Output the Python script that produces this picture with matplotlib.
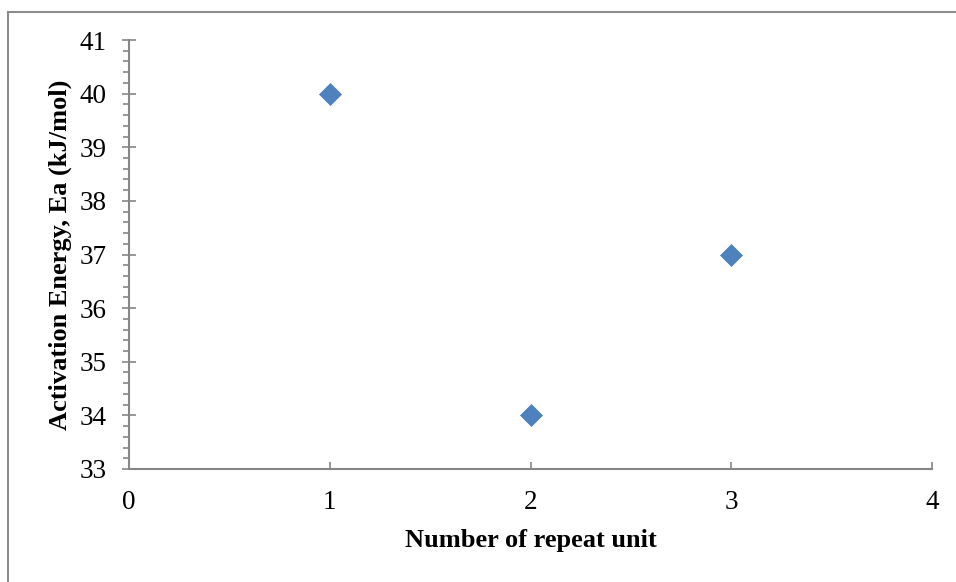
import matplotlib
matplotlib.use("Agg")
import matplotlib.pyplot as plt
from matplotlib.lines import Line2D
from matplotlib.ticker import MultipleLocator

repeat_units = [1, 2, 3]
activation_energy = [40, 34, 37]

plt.rcParams['font.family'] = ['Liberation Serif', 'DejaVu Serif']

W, H = 956, 582
fig = plt.figure(figsize=(W / 100, H / 100), dpi=100)
ax_left, ax_right, ax_top, ax_bottom = 129, 932, 40, 469
ax = fig.add_axes([ax_left / W, 1 - ax_bottom / H,
                   (ax_right - ax_left) / W, (ax_bottom - ax_top) / H])

axis_grey = '#868686'

ax.scatter(repeat_units, activation_energy, marker='D', s=125,
           color='#4F81BD', edgecolors='#4A7EBB', linewidths=0.5, zorder=3)

ax.set_xlim(0, 4)
ax.set_ylim(33, 41)
ax.xaxis.set_major_locator(MultipleLocator(1))
ax.yaxis.set_major_locator(MultipleLocator(1))
ax.yaxis.set_minor_locator(MultipleLocator(0.2))

for side in ('top', 'right'):
    ax.spines[side].set_visible(False)
for side in ('left', 'bottom'):
    ax.spines[side].set_color(axis_grey)
    ax.spines[side].set_linewidth(1.5)

ax.tick_params(axis='y', which='major', direction='inout', length=10, width=1.2,
               color=axis_grey, labelsize=19.5, pad=11, labelcolor='black')
ax.tick_params(axis='y', which='minor', direction='out', length=4.5, width=1.2,
               color=axis_grey)
ax.tick_params(axis='x', which='major', direction='in', length=5, width=1.2,
               color=axis_grey, labelsize=19.5, pad=15, labelcolor='black')

ax.set_xlabel('Number of repeat unit', fontsize=19, fontweight='bold', va='center')
ax.set_ylabel('Activation Energy, Ea (kJ/mol)', fontsize=19, fontweight='bold', va='center')
ax.xaxis.set_label_coords(0.5, (ax_bottom - 540) / (ax_bottom - ax_top))
ax.yaxis.set_label_coords((60 - ax_left) / (ax_right - ax_left), 0.5)

# frame around the chart area
frame_kw = dict(color='#8c8c8c', linewidth=1.5, transform=fig.transFigure)
fig.add_artist(Line2D([8 / W, 8 / W], [0, 1 - 12 / H], **frame_kw))
fig.add_artist(Line2D([8 / W, 1], [1 - 12 / H, 1 - 12 / H], **frame_kw))

fig.savefig('out.png', dpi=100)
